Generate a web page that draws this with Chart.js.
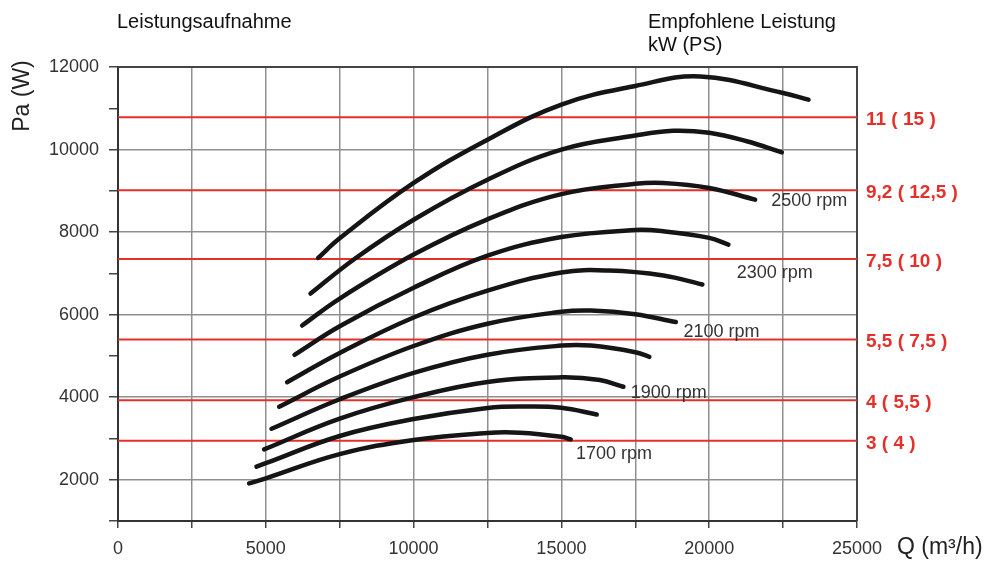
<!DOCTYPE html>
<html>
<head>
<meta charset="utf-8">
<script src="https://cdn.jsdelivr.net/npm/chart.js@4.4.1/dist/chart.umd.min.js"></script>
<style>
  html, body { margin: 0; padding: 0; background: #fff; }
  #wrap { width: 988px; height: 563px; }
</style>
</head>
<body>
<div id="wrap"><canvas id="fanChart" width="988" height="563"></canvas></div>
<script>
// Leistungsaufnahme curves, [Q m3/h, Pa W] pairs (bottom curve first)
const curve1 = [[4435,1911],[5000,2035],[7500,2620],[10000,2965],[12500,3135],[13600,3140],[15000,3040],[15315,2976]];
const curve2 = [[4685,2315],[5000,2400],[7500,3060],[10000,3470],[12500,3740],[13800,3775],[15000,3745],[16195,3581]];
const curve3 = [[4942,2734],[7500,3480],[10000,4000],[12500,4370],[15000,4480],[16300,4415],[17097,4252]];
const curve4 = [[5193,3235],[7500,3950],[10000,4590],[12500,5030],[15000,5250],[16000,5250],[17500,5090],[17975,4978]];
const curve5 = [[5451,3768],[7500,4500],[10000,5240],[12500,5780],[15000,6070],[16000,6100],[17500,6010],[18870,5820]];
const curve6 = [[5721,4363],[7500,5070],[10000,5930],[12500,6580],[15000,7020],[16600,7070],[18450,6950],[19770,6729]];
const curve7 = [[5971,5027],[7500,5720],[10000,6650],[12500,7430],[15000,7880],[17500,8050],[18440,8020],[20000,7860],[20650,7697]];
const curve8 = [[6229,5736],[7500,6390],[10000,7455],[12500,8310],[15000,8920],[17500,9170],[18440,9190],[20000,9070],[21555,8787]];
const curve9 = [[6513,6511],[8011,7355],[10000,8300],[12500,9270],[15000,10000],[17500,10340],[18780,10455],[20000,10405],[21270,10200],[22457,9932]];
const curve10 = [[6771,7375],[7500,7850],[10000,9190],[12500,10240],[15000,11090],[17500,11540],[19700,11770],[22500,11370],[23360,11208]];
const curves = [curve1, curve2, curve3, curve4, curve5, curve6, curve7, curve8, curve9, curve10];

// recommended motor power lines (Pa level) and their labels kW (PS)
const powerLevels = [10780, 9012, 7351, 5397, 3927, 2944];
const powerLabels = ['11 ( 15 )', '9,2 ( 12,5 )', '7,5 ( 10 )', '5,5 ( 7,5 )', '4 ( 5,5 )', '3 ( 4 )'];

// rpm annotations, anchored in data units
const rpmLabels = ['2500 rpm', '2300 rpm', '2100 rpm', '1900 rpm', '1700 rpm'];
const rpmQ = [22096, 20934, 19127, 17346, 15494];
const rpmPa = [8787, 7044, 5598, 4121, 2644];

const Q_MIN = 0, Q_MAX = 25000, PA_MIN = 1000, PA_MAX = 12000;

const FONT = '"Liberation Sans", Arial, Helvetica, sans-serif';
const RED = '#e4302b';

const datasets = [];
curves.forEach(c => {
  datasets.push({
    data: c.map(p => ({ x: p[0], y: p[1] })),
    borderColor: '#151515',
    borderWidth: 4.5,
    borderCapStyle: 'round',
    borderJoinStyle: 'round',
    tension: 0.4,
    pointRadius: 0,
    order: 0
  });
});
powerLevels.forEach(v => {
  datasets.push({
    data: [{ x: Q_MIN, y: v }, { x: Q_MAX, y: v }],
    borderColor: RED,
    borderWidth: 2,
    pointRadius: 0,
    order: 1
  });
});

// frame + free texts
const annotate = {
  id: 'annotate',
  beforeDatasetsDraw(chart) {
    const { ctx, chartArea: a } = chart;
    ctx.save();
    ctx.strokeStyle = '#444';
    ctx.lineWidth = 2;
    ctx.beginPath();
    ctx.moveTo(a.left, a.top);
    ctx.lineTo(a.right, a.top);
    ctx.lineTo(a.right, a.bottom);
    ctx.stroke();
    ctx.restore();
  },
  afterDatasetsDraw(chart) {
    const { ctx, chartArea: a, scales } = chart;
    const xs = scales.x, ys = scales.y;
    ctx.save();

    // kW (PS) labels right of the plot
    ctx.font = 'bold 19px ' + FONT;
    ctx.fillStyle = RED;
    ctx.textAlign = 'left';
    ctx.textBaseline = 'middle';
    powerLevels.forEach((v, i) => {
      ctx.fillText(powerLabels[i], a.right + 9, ys.getPixelForValue(v) + 2.5);
    });

    // rpm labels
    ctx.font = '18px ' + FONT;
    ctx.fillStyle = '#333';
    rpmLabels.forEach((t, i) => {
      ctx.fillText(t, xs.getPixelForValue(rpmQ[i]), ys.getPixelForValue(rpmPa[i]) + 1);
    });

    // headers
    ctx.fillStyle = '#111';
    ctx.textBaseline = 'alphabetic';
    ctx.font = '20px ' + FONT;
    ctx.fillText('Leistungsaufnahme', 117, 27.5);
    ctx.fillText('Empfohlene Leistung', 648, 27.5);
    ctx.fillText('kW (PS)', 648, 50.5);

    // axis titles
    ctx.font = '23px ' + FONT;
    ctx.fillStyle = '#222';
    ctx.textBaseline = 'middle';
    ctx.fillText('Q (m³/h)', 897, 548);
    ctx.translate(23, 96);
    ctx.rotate(-Math.PI / 2);
    ctx.textAlign = 'center';
    ctx.fillText('Pa (W)', 0, 0);
    ctx.restore();
  }
};

new Chart(document.getElementById('fanChart').getContext('2d'), {
  type: 'line',
  data: { datasets },
  options: {
    responsive: false,
    animation: false,
    devicePixelRatio: 1,
    layout: { padding: { left: 0, top: 67, right: 131, bottom: 0 } },
    plugins: { legend: { display: false }, tooltip: { enabled: false } },
    events: [],
    scales: {
      x: {
        type: 'linear',
        min: Q_MIN,
        max: Q_MAX,
        afterFit(scale) { scale.height = 42; },
        ticks: {
          stepSize: 2500,
          autoSkip: false,
          maxRotation: 0,
          padding: 10,
          color: '#333',
          font: { family: FONT, size: 18 },
          callback: v => (v % 5000 === 0 ? String(v) : '')
        },
        grid: { color: '#8f8f8f', lineWidth: 1.5, tickLength: 7, tickColor: '#444' },
        border: { display: true, color: '#333', width: 2 }
      },
      y: {
        type: 'linear',
        min: PA_MIN,
        max: PA_MAX,
        afterFit(scale) { scale.width = 118; },
        ticks: {
          stepSize: 1000,
          autoSkip: false,
          padding: 10,
          color: '#333',
          font: { family: FONT, size: 18 },
          callback: v => (v % 2000 === 0 ? String(v) : '')
        },
        grid: {
          color: c => (c.tick && c.tick.value % 2000 === 0 ? '#8f8f8f' : 'rgba(0,0,0,0)'),
          lineWidth: 1.5,
          tickLength: 9,
          tickColor: '#444'
        },
        border: { display: true, color: '#333', width: 2 }
      }
    }
  },
  plugins: [annotate]
});
</script>
</body>
</html>
